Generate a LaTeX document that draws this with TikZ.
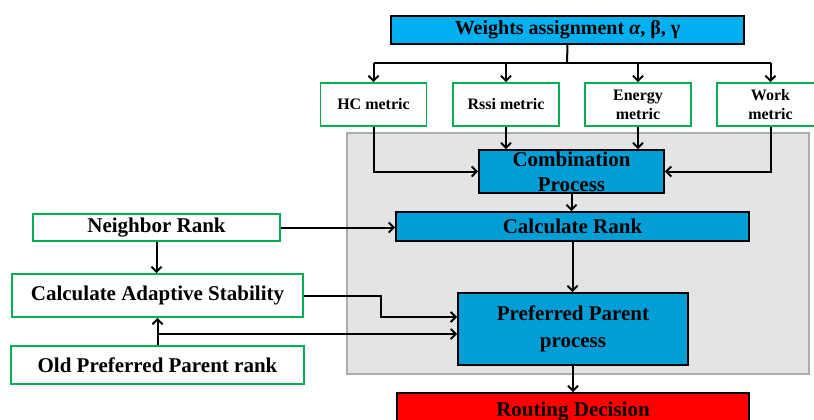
\documentclass[tikz,border=0pt]{standalone}
\usepackage{fontspec}
\setmainfont{Liberation Serif}
\usetikzlibrary{arrows.meta}

\definecolor{procblue}{RGB}{0,158,214}
\definecolor{topblue}{RGB}{0,176,240}
\definecolor{inputgreen}{RGB}{0,176,80}
\definecolor{panelgray}{RGB}{228,228,228}

\begin{document}
\begin{tikzpicture}[x=1pt,y=-1pt,
    blk/.style={draw,line width=1.8pt,inner sep=0pt,align=center,
      font=\bfseries\fontsize{21}{25}\selectfont},
    procbox/.style={blk,fill=procblue},
    inbox/.style={blk,draw=inputgreen,fill=white},
    metric/.style={inbox,minimum width=106pt,minimum height=43pt,
      font=\bfseries\fontsize{16}{19}\selectfont},
    link/.style={line width=2pt},
    flow/.style={link,-{Straight Barb[length=5pt,width=10pt]}}]
  \useasboundingbox (0,0) rectangle (814,420);

  % grey panel behind the rank computation
  \draw[fill=panelgray,draw=gray!65,line width=1.5pt] (347,133) rectangle (809,374);

  % top: weights and metrics
  \node[procbox,fill=topblue,minimum width=353pt,minimum height=28pt,
    font=\bfseries\fontsize{20}{24}\selectfont] (weights) at (567.5,30)
    {Weights assignment \textit{α}, β, γ};
  \node[metric] (hc) at (373.5,104.5) {HC metric};
  \node[metric] (rssi) at (506,104.5) {Rssi metric};
  \node[metric] (energy) at (638,104.5) {Energy\\metric};
  \node[metric,minimum width=107pt] (work) at (770.5,104.5) {Work\\metric};

  % processing column
  \node[procbox,minimum width=185pt,minimum height=43pt] (comb) at (571.5,171.5)
    {Combination\\Process};
  \node[procbox,minimum width=353pt,minimum height=29pt] (calcrank) at (572.5,226.5)
    {Calculate Rank};
  \node[procbox,minimum width=230pt,minimum height=72pt,
    font=\bfseries\fontsize{21}{27}\selectfont] (parent) at (573,329)
    {Preferred Parent\\process};
  \node[blk,fill=red,minimum width=352pt,minimum height=37pt] (routing) at (573,411.5)
    {Routing Decision};

  % inputs on the left
  \node[inbox,minimum width=247pt,minimum height=27pt] (neighbor) at (156.5,227.5)
    {Neighbor Rank};
  \node[inbox,minimum width=291pt,minimum height=43pt] (adaptive) at (157.5,295.5)
    {Calculate Adaptive Stability};
  \node[inbox,minimum width=293pt,minimum height=38pt] (oldparent) at (157.5,365)
    {Old Preferred Parent rank};

  % connectors
  \coordinate (split) at (567,63);
  \draw[link] (weights.south) -- (split);
  \draw[link] (hc.north |- split) -- (work.north |- split);
  \foreach \m in {hc,rssi,energy,work}
    \draw[flow] (\m.north |- split) -- (\m.north);

  \draw[flow] (hc.south) |- (comb.west);
  \draw[flow] (work.south) |- (comb.east);
  \draw[flow] (rssi.south) -- (rssi.south |- comb.north);
  \draw[flow] (energy.south) -- (energy.south |- comb.north);
  \draw[flow] (comb.south) -- (comb.south |- calcrank.north);

  \draw[flow] (neighbor.east) -- (neighbor.east -| calcrank.west);
  \draw[flow] (neighbor.south) -- (neighbor.south |- adaptive.north);
  \draw[flow] (calcrank.south) -- (calcrank.south |- parent.north);

  \coordinate (inA) at ([yshift=12pt]parent.west);
  \coordinate (inB) at ([yshift=-5pt]parent.west);
  \draw[flow] (adaptive.east) -- ++(77,0) |- (inA);
  \draw[flow] (oldparent.north) -- (oldparent.north |- adaptive.south);
  \draw[flow] (oldparent.north |- inB) -- (inB);
  \draw[flow] (parent.south) -- (parent.south |- routing.north);
\end{tikzpicture}
\end{document}
